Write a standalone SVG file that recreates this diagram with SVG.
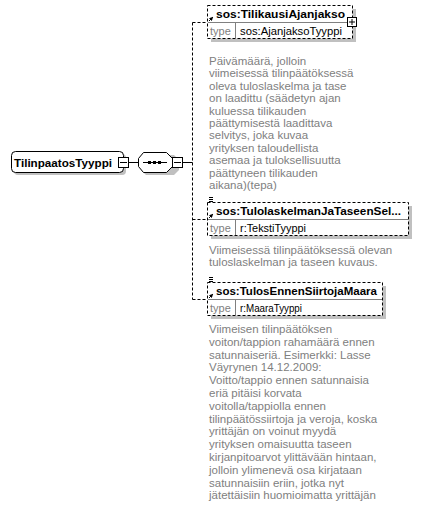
<svg xmlns="http://www.w3.org/2000/svg" width="423" height="511" viewBox="0 0 423 511">
<style>
.shadow{fill:#c0c0c0;stroke:none}
.box{fill:#fff;stroke:#000;stroke-width:1}
.dbox{fill:#fff;stroke:#000;stroke-width:1;stroke-dasharray:3,2}
.sep{stroke:#808080;stroke-width:1;fill:none}
.name{font-family:"Liberation Sans",Arial,sans-serif;font-size:11px;font-weight:bold;fill:#000}
.tlabel{font-family:"Liberation Sans",Arial,sans-serif;font-size:11px;fill:#808080}
.tval{font-family:"Liberation Sans",Arial,sans-serif;font-size:11px;fill:#000}
.desc{font-family:"Liberation Sans",Arial,sans-serif;font-size:11.5px;fill:#808080}
.conn{stroke:#000;stroke-width:1;fill:none;stroke-dasharray:3,2}
.solid{stroke:#000;stroke-width:1;fill:none}
</style>
<defs>
<marker id="ref" markerWidth="4" markerHeight="4" refX="3" refY="2" orient="auto" markerUnits="userSpaceOnUse">
<path d="M0,0 L4,2 L0,4 z" fill="#000"/>
</marker>
</defs>

<g id="connectors">
<line class="solid" x1="128" y1="162.5" x2="138" y2="162.5"/>
<line class="solid" x1="182" y1="162.5" x2="192.5" y2="162.5"/>
<line class="conn" x1="192.5" y1="22.5" x2="192.5" y2="299.5"/>
<line class="conn" x1="192.5" y1="22.5" x2="207.5" y2="22.5"/>
<line class="conn" x1="192.5" y1="219.5" x2="207.5" y2="219.5"/>
<line class="conn" x1="192.5" y1="299.5" x2="207.5" y2="299.5"/>
</g>

<g id="root">
<rect class="shadow" x="14" y="154" width="112" height="21" rx="4"/>
<rect class="box" x="11.5" y="151.5" width="112" height="21" rx="4"/>
<text class="name" x="14" y="166.5" textLength="98" lengthAdjust="spacingAndGlyphs">TilinpaatosTyyppi</text>
<rect class="box" x="118.5" y="157.5" width="10" height="10"/>
<line class="solid" x1="120" y1="162.5" x2="127" y2="162.5"/>
</g>

<g id="sequence">
<path class="shadow" d="M146,155 L174,155 L179,160 L179,170 L174,175 L146,175 L141,170 L141,160 z"/>
<path class="box" d="M143.5,152.5 L166.5,152.5 L172.5,158.5 L172.5,166.5 L166.5,172.5 L143.5,172.5 L138.5,166.5 L138.5,158.5 z"/>
<line class="solid" x1="143" y1="162.5" x2="167" y2="162.5"/>
<rect x="148" y="161" width="3" height="3" fill="#000"/>
<rect x="153" y="161" width="3" height="3" fill="#000"/>
<rect x="158" y="161" width="3" height="3" fill="#000"/>
<rect class="box" x="172.5" y="157.5" width="10" height="10"/>
<line class="solid" x1="174" y1="162.5" x2="181" y2="162.5"/>
</g>

<g id="TilikausiAjanjakso">
<rect class="shadow" x="211" y="9" width="145" height="33"/>
<rect class="dbox" x="207.5" y="5.5" width="145" height="33"/>
<line class="sep" x1="208" y1="22.5" x2="352" y2="22.5"/>
<line class="sep" x1="235.5" y1="23" x2="235.5" y2="38"/>
<line class="solid" x1="209" y1="21" x2="212.5" y2="17.5" marker-end="url(#ref)"/>
<text class="name" x="216" y="18" textLength="129" lengthAdjust="spacingAndGlyphs">sos:TilikausiAjanjakso</text>
<text class="tlabel" x="210" y="35">type</text>
<text class="tval" x="240" y="35" textLength="102" lengthAdjust="spacingAndGlyphs">sos:AjanjaksoTyyppi</text>
<rect class="box" x="347.5" y="17.5" width="9" height="9"/>
<line class="solid" x1="349" y1="22" x2="355" y2="22"/>
<line class="solid" x1="352" y1="19" x2="352" y2="25"/>
<text class="desc">
<tspan x="209" y="65">Päivämäärä, jolloin</tspan>
<tspan x="209" y="77.4">viimeisessä tilinpäätöksessä</tspan>
<tspan x="209" y="89.8">oleva tuloslaskelma ja tase</tspan>
<tspan x="209" y="102.2">on laadittu (säädetyn ajan</tspan>
<tspan x="209" y="114.6">kuluessa tilikauden</tspan>
<tspan x="209" y="127">päättymisestä laadittava</tspan>
<tspan x="209" y="139.4">selvitys, joka kuvaa</tspan>
<tspan x="209" y="151.8">yrityksen taloudellista</tspan>
<tspan x="209" y="164.2">asemaa ja tuloksellisuutta</tspan>
<tspan x="209" y="176.6">päättyneen tilikauden</tspan>
<tspan x="209" y="189">aikana)(tepa)</tspan>
</text>
</g>

<g id="TulolaskelmanJaTaseenSelvitys">
<rect class="shadow" x="211" y="206" width="201" height="33"/>
<rect class="dbox" x="207.5" y="202.5" width="201" height="33"/>
<line class="sep" x1="208" y1="219.5" x2="408" y2="219.5"/>
<line class="sep" x1="235.5" y1="220" x2="235.5" y2="235"/>
<line class="solid" x1="209" y1="197.5" x2="213" y2="197.5"/>
<line class="solid" x1="209" y1="199.5" x2="213" y2="199.5"/>
<line class="solid" x1="209" y1="201.5" x2="213" y2="201.5"/>
<line class="solid" x1="209" y1="218" x2="212.5" y2="214.5" marker-end="url(#ref)"/>
<text class="name" x="216" y="215" textLength="185" lengthAdjust="spacingAndGlyphs">sos:TulolaskelmanJaTaseenSel...</text>
<text class="tlabel" x="210" y="232">type</text>
<text class="tval" x="240" y="232" textLength="66" lengthAdjust="spacingAndGlyphs">r:TekstiTyyppi</text>
<text class="desc">
<tspan x="209" y="254">Viimeisessä tilinpäätöksessä olevan</tspan>
<tspan x="209" y="266.4">tuloslaskelman ja taseen kuvaus.</tspan>
</text>
</g>

<g id="TulosEnnenSiirtojaMaara">
<rect class="shadow" x="211" y="286" width="175" height="33"/>
<rect class="dbox" x="207.5" y="282.5" width="175" height="33"/>
<line class="sep" x1="208" y1="299.5" x2="382" y2="299.5"/>
<line class="sep" x1="235.5" y1="300" x2="235.5" y2="315"/>
<line class="solid" x1="209" y1="277.5" x2="213" y2="277.5"/>
<line class="solid" x1="209" y1="279.5" x2="213" y2="279.5"/>
<line class="solid" x1="209" y1="281.5" x2="213" y2="281.5"/>
<line class="solid" x1="209" y1="298" x2="212.5" y2="294.5" marker-end="url(#ref)"/>
<text class="name" x="216" y="295" textLength="161" lengthAdjust="spacingAndGlyphs">sos:TulosEnnenSiirtojaMaara</text>
<text class="tlabel" x="210" y="312">type</text>
<text class="tval" x="240" y="312" textLength="62" lengthAdjust="spacingAndGlyphs">r:MaaraTyyppi</text>
<text class="desc">
<tspan x="209" y="333">Viimeisen tilinpäätöksen</tspan>
<tspan x="209" y="345.8">voiton/tappion rahamäärä ennen</tspan>
<tspan x="209" y="358.6">satunnaiseriä. Esimerkki: Lasse</tspan>
<tspan x="209" y="371.4">Väyrynen 14.12.2009:</tspan>
<tspan x="209" y="384.2">Voitto/tappio ennen satunnaisia</tspan>
<tspan x="209" y="397">eriä pitäisi korvata</tspan>
<tspan x="209" y="409.8">voitolla/tappiolla ennen</tspan>
<tspan x="209" y="422.6">tilinpäätössiirtoja ja veroja, koska</tspan>
<tspan x="209" y="435.4">yrittäjän on voinut myydä</tspan>
<tspan x="209" y="448.2">yrityksen omaisuutta taseen</tspan>
<tspan x="209" y="461">kirjanpitoarvot ylittävään hintaan,</tspan>
<tspan x="209" y="473.8">jolloin ylimenevä osa kirjataan</tspan>
<tspan x="209" y="486.6">satunnaisiin eriin, jotka nyt</tspan>
<tspan x="209" y="499.4">jätettäisiin huomioimatta yrittäjän</tspan>
</text>
</g>
</svg>
